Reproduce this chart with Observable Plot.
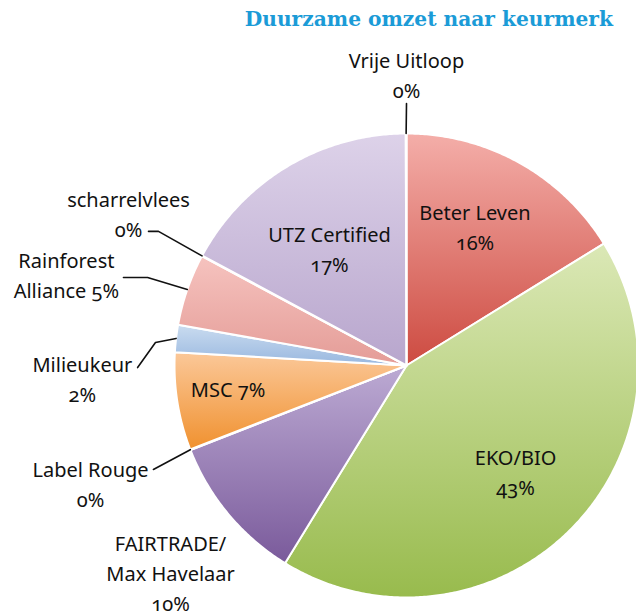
<!DOCTYPE html>
<html><head><meta charset="utf-8">
<script src="https://cdn.jsdelivr.net/npm/d3@7"></script>
<script src="https://cdn.jsdelivr.net/npm/@observablehq/plot@0.6"></script>
<style>
html,body{margin:0;padding:0;background:#fff;overflow:hidden;}
#title{height:36px;box-sizing:border-box;padding:9px 23px 0 0;text-align:right;font-weight:bold;font-size:20.2px;font-family:"DejaVu Serif",serif;color:#1b9bd7;line-height:1;white-space:nowrap;}
#chart svg{display:block;}
#chart svg text{font-variant-numeric:oldstyle-nums;font-feature-settings:"onum" 1;}
</style></head><body>
<div id="title">Duurzame omzet naar keurmerk</div>
<div id="chart"></div>
<script>
// ---- data (clockwise from 12 o'clock) ----
const names  = ["Beter Leven","EKO/BIO","FAIRTRADE/\nMax Havelaar","Label Rouge","MSC","Milieukeur","Rainforest\nAlliance","scharrelvlees","UTZ Certified","Vrije Uitloop"];
const shares = [16.2, 42.6, 10.3, 0.05, 6.8, 1.9, 5.0, 0.05, 17.1, 0.05];
const pctLabels = ["16%","43%","10%","0%","7%","2%","5%","0%","17%","0%"];

// ---- styles ----
const gradTop    = ["#f4aea9","#dbe8b6","#bcaad3","#f7b27a","#fbc899","#cadcf0","#f6c3bf","#f0b0b0","#ddd2e9","#e0d0e8"];
const gradBottom = ["#cd4b41","#98bb4d","#7a5a9b","#f0912f","#f0912f","#98b7df","#e49c97","#e49c97","#b8a6cd","#c0b0d0"];
// label layout: anchor (last baseline) in pie-radius units, separator between name and percentage
const labelPos = [[0.295,0.496],[0.470,-0.560],[-1.017,-1.060],[-1.362,-0.608],[-0.769,-0.134],[-1.397,-0.159],[-1.466,0.289],[-1.198,0.552],[-0.332,0.405],[0,1.155]];
const labelSep = ["\n","\n","\n","\n"," ","\n"," ","\n","\n","\n"];
// leader lines (label side points, in pie-radius units); the last point is on the slice
const leaderPts = [null,null,null,[[-1.091,-0.448]],null,[[-1.159,-0.009],[-1.082,0.099]],[[-1.220,0.379],[-1.116,0.379]],[[-1.112,0.578],[-1.069,0.578]],null,[[0,1.129]]];

const rows = names.map((n,i)=>({name:n, share:shares[i], pct:pctLabels[i], i}));
const arcs = d3.pie().sort(null).value(d=>d.share).startAngle(0).endAngle(2*Math.PI)(rows);

const slicePts = [];
arcs.forEach(a=>{
  const i = a.data.i;
  const steps = Math.max(2, Math.ceil((a.endAngle-a.startAngle)/(Math.PI/360)));
  slicePts.push({k:i, x:0, y:0, fill:`url(#g${i})`});
  for(let s=0;s<=steps;s++){
    const t = a.startAngle + (a.endAngle-a.startAngle)*s/steps;
    slicePts.push({k:i, x:Math.sin(t), y:Math.cos(t), fill:`url(#g${i})`});
  }
  slicePts.push({k:i, x:0, y:0, fill:`url(#g${i})`});
});

const leaders = [];
arcs.forEach(a=>{
  const i=a.data.i; const pts=leaderPts[i]; if(!pts) return;
  pts.forEach(p=>leaders.push({k:i,x:p[0],y:p[1]}));
  const m=(a.startAngle+a.endAngle)/2;
  leaders.push({k:i,x:Math.sin(m),y:Math.cos(m)});
});

const labels = rows.map((r,i)=>({x:labelPos[i][0], y:labelPos[i][1], text:r.name+labelSep[i]+r.pct}));

const W=636, H=579, cx=406, cy=365-36, R=232;
const svg = Plot.plot({
  width:W, height:H, margin:0,
  style:{fontFamily:"Noto Sans", background:"white"},
  x:{domain:[-1,1], range:[cx-R,cx+R], axis:null},
  y:{domain:[-1,1], range:[cy+R,cy-R], axis:null},
  color:{type:"identity"},
  marks:[
    Plot.line(slicePts,{x:"x",y:"y",z:"k",fill:"fill",stroke:"white",strokeWidth:2,strokeLinejoin:"round",curve:"linear"}),
    Plot.line(leaders,{x:"x",y:"y",z:"k",stroke:"#111",strokeWidth:1.6}),
    Plot.text(labels,{x:"x",y:"y",text:"text",textAnchor:"middle",lineAnchor:"bottom",lineHeight:1.5,fontSize:20,fontFamily:"Noto Sans",fill:"#111"})
  ]
});
const defs = d3.select(svg).insert("defs",":first-child");
rows.forEach((r,i)=>{
  const g = defs.append("linearGradient").attr("id","g"+i).attr("x1",0).attr("y1",0).attr("x2",0).attr("y2",1);
  g.append("stop").attr("offset",0).attr("stop-color",gradTop[i]);
  g.append("stop").attr("offset",1).attr("stop-color",gradBottom[i]);
});
document.getElementById("chart").appendChild(svg);
</script>
</body></html>
